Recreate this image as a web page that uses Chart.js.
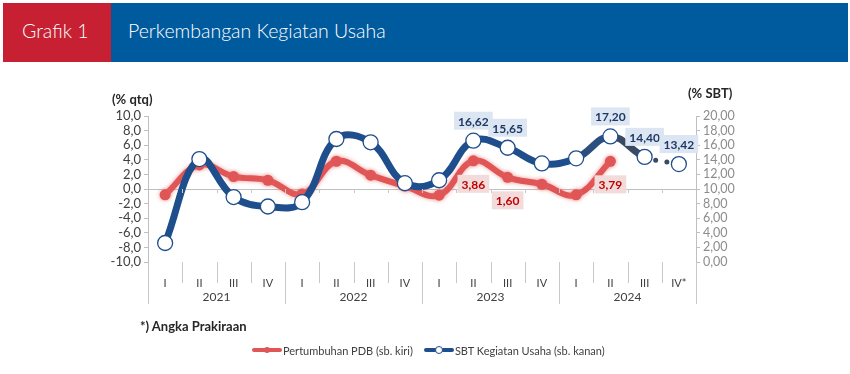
<!DOCTYPE html>
<html>
<head>
<meta charset="utf-8">
<script src="https://cdn.jsdelivr.net/npm/chart.js@4.4.1/dist/chart.umd.min.js"></script>
<style>
  body { margin: 0; width: 850px; height: 374px; background: #fff; font-family: Lato, sans-serif; position: relative; overflow: hidden; }
  #hdr { position: absolute; left: 3px; top: 3px; width: 845px; height: 59px; background: #005a9e; }
  #hdr .tag { position: absolute; left: 0; top: 0; width: 108px; height: 59px; background: #c62032; }
  #hdr span { position: absolute; top: 16px; color: #fff; font-size: 19.5px; line-height: 24px; font-weight: 300; }
  #c { position: absolute; left: 0; top: 0; }
  .axt { position: absolute; font-weight: bold; font-size: 13px; color: #262626; line-height: 16px; }
  #note { position: absolute; left: 140px; top: 318px; font-weight: bold; font-size: 13px; color: #262626; }
  #legend { position: absolute; left: 252px; top: 342px; font-size: 11px; color: #404040; display: flex; align-items: center; }
  .sw { position: relative; width: 30px; height: 16px; margin-right: 1px; }
  .sw i { position: absolute; left: 0; top: 6px; width: 30px; height: 4px; border-radius: 2px; }
  .sw b { position: absolute; left: 12px; top: 5px; width: 6px; height: 6px; border-radius: 50%; box-sizing: border-box; }
</style>
</head>
<body>
<div id="hdr"><div class="tag"></div><span style="left:19px">Grafik 1</span><span style="left:125px">Perkembangan Kegiatan Usaha</span></div>
<canvas id="c" width="850" height="374"></canvas>
<div class="axt" style="left:112px;top:91px">(% qtq)</div>
<div class="axt" style="left:688px;top:85px">(% SBT)</div>
<div id="note">*) Angka Prakiraan</div>
<div id="legend">
  <div class="sw"><i style="background:#e05555"></i><b style="background:#e05555"></b></div>
  <span style="margin-right:11px">Pertumbuhan PDB (sb. kiri)</span>
  <div class="sw"><i style="background:#1f4e8c"></i><b style="background:#fff;border:1.5px solid #1f4e8c;left:11px;top:4px;width:8px;height:8px"></b></div>
  <span>SBT Kegiatan Usaha (sb. kanan)</span>
</div>
<script>
const quarters = ['I', 'II', 'III', 'IV', 'I', 'II', 'III', 'IV', 'I', 'II', 'III', 'IV', 'I', 'II', 'III', 'IV*'];
const years = ['2021', '2022', '2023', '2024'];
const pdb = [-0.8, 3.3, 1.7, 1.2, -0.7, 3.8, 1.9, 0.4, -0.85, 3.86, 1.60, 0.65, -0.8, 3.79, null, null];
const sbt = [2.6, 14.1, 8.9, 7.6, 8.2, 16.85, 16.4, 10.8, 11.2, 16.62, 15.65, 13.5, 14.2, 17.20, 14.40, 13.42];
const pdbLabelIdx = [9, 10, 13];
const sbtLabelIdx = [9, 10, 13, 14, 15];
const leftTicks = { min: -10, max: 10, step: 2 };
const rightTicks = { min: 0, max: 20, step: 2 };

const fmt = (v, d) => v.toFixed(d).replace('.', ',');

// red line gets a soft halo
const halo = {
  id: 'halo',
  beforeDatasetDraw(chart, args) {
    if (args.index !== 0) return;
    chart.ctx.save();
    chart.ctx.shadowColor = 'rgba(232,110,110,0.7)';
    chart.ctx.shadowBlur = 4;
  },
  afterDatasetDraw(chart, args) {
    if (args.index === 0) chart.ctx.restore();
  }
};

// separators, year labels, zero-line ticks
const xDecor = {
  id: 'xDecor',
  afterDraw(chart) {
    const { ctx, chartArea } = chart;
    const x = chart.scales.x;
    const y0 = chart.scales.yL.getPixelForValue(0);
    const half = (x.getPixelForValue(1) - x.getPixelForValue(0)) / 2;
    ctx.save();
    ctx.strokeStyle = '#c8c8c8';
    ctx.lineWidth = 1;
    for (let i = 0; i <= quarters.length; i++) {
      const px = Math.round(x.getPixelForValue(i) - half) + 0.5;
      ctx.beginPath();
      ctx.moveTo(px, chartArea.bottom);
      ctx.lineTo(px, chartArea.bottom + (i % 4 === 0 ? 42 : 21));
      ctx.stroke();
      if (i > 0 && i < quarters.length) {
        ctx.beginPath();
        ctx.moveTo(px, y0);
        ctx.lineTo(px, y0 + 4);
        ctx.stroke();
      }
    }
    ctx.fillStyle = '#404040';
    ctx.font = '12px Lato';
    ctx.textAlign = 'center';
    ctx.textBaseline = 'middle';
    years.forEach((yr, k) => {
      const cx = (x.getPixelForValue(k * 4) + x.getPixelForValue(k * 4 + 3)) / 2;
      ctx.fillText(yr, cx, chartArea.bottom + 35);
    });
    ctx.restore();
  }
};

const dataLabels = {
  id: 'dataLabels',
  afterDatasetsDraw(chart) {
    const { ctx } = chart;
    const sets = [
      { ds: 0, idx: pdbLabelIdx, vals: pdb, dy: 23, bg: '#f2dcdb', fg: '#c00000' },
      { ds: 1, idx: sbtLabelIdx, vals: sbt, dy: -20, bg: '#dce6f2', fg: '#1f3864' }
    ];
    ctx.save();
    ctx.font = 'bold 12px Lato';
    ctx.textAlign = 'center';
    ctx.textBaseline = 'middle';
    sets.forEach(s => {
      const meta = chart.getDatasetMeta(s.ds);
      s.idx.forEach(i => {
        const pt = meta.data[i];
        const txt = fmt(s.vals[i], 2);
        const w = ctx.measureText(txt).width + 8;
        const cx = pt.x, cy = pt.y + s.dy;
        ctx.fillStyle = s.bg;
        ctx.fillRect(cx - w / 2, cy - 9, w, 18);
        ctx.fillStyle = s.fg;
        ctx.fillText(txt, cx, cy + 1);
      });
    });
    ctx.restore();
  }
};

new Chart(document.getElementById('c'), {
  type: 'line',
  data: {
    labels: quarters,
    datasets: [
      {
        label: 'Pertumbuhan PDB (sb. kiri)',
        data: pdb,
        yAxisID: 'yL',
        order: 1,
        borderColor: '#e05555',
        backgroundColor: '#e05555',
        borderWidth: 6,
        tension: 0.4,
        borderCapStyle: 'round',
        pointRadius: 5.5,
        pointBorderWidth: 0,
        pointBackgroundColor: '#e05555'
      },
      {
        label: 'SBT Kegiatan Usaha (sb. kanan)',
        data: sbt,
        yAxisID: 'yR',
        order: 0,
        borderColor: '#1f4e8c',
        backgroundColor: '#1f4e8c',
        borderWidth: 7,
        tension: 0.4,
        borderCapStyle: 'round',
        pointRadius: 7.5,
        pointBorderWidth: 1.3,
        pointBorderColor: '#1f4e8c',
        pointBackgroundColor: '#fff',
        segment: {
          borderColor: c => c.p0DataIndex === 12 ? '#2c4f80' : (c.p0DataIndex >= 13 ? '#3a4a62' : undefined),
          borderDash: c => c.p0DataIndex === 14 ? [0, 11.5] : undefined,
          borderWidth: c => c.p0DataIndex === 14 ? 5 : undefined
        }
      }
    ]
  },
  options: {
    responsive: false,
    animation: false,
    layout: { padding: { left: 100, right: 104, top: 116, bottom: 72 } },
    plugins: { legend: { display: false }, tooltip: { enabled: false } },
    scales: {
      x: {
        offset: true,
        grid: { display: false },
        border: { display: false },
        ticks: { padding: 7, font: { family: 'Lato', size: 11 }, color: '#404040', maxRotation: 0, autoSkip: false },
        afterFit: s => { s.height = 40; }
      },
      yL: {
        position: 'left',
        min: leftTicks.min,
        max: leftTicks.max,
        ticks: { stepSize: leftTicks.step, autoSkip: false, padding: 3, font: { family: 'Lato', size: 13 }, color: '#404040', callback: v => fmt(v, 1) },
        grid: {
          color: c => c.tick && c.tick.value === 0 ? '#bfbfbf' : 'rgba(0,0,0,0)',
          tickColor: '#bfbfbf',
          tickLength: 4
        },
        border: { color: '#bfbfbf' },
        afterFit: s => { s.width = 48; }
      },
      yR: {
        position: 'right',
        min: rightTicks.min,
        max: rightTicks.max,
        ticks: { stepSize: rightTicks.step, autoSkip: false, padding: 3, font: { family: 'Lato', size: 12.5 }, color: '#8c8c8c', callback: v => fmt(v, 2) },
        grid: { drawOnChartArea: false, tickColor: '#bfbfbf', tickLength: 4 },
        border: { color: '#bfbfbf' },
        afterFit: s => { s.width = 50; }
      }
    }
  },
  plugins: [halo, xDecor, dataLabels]
});
</script>
</body>
</html>
